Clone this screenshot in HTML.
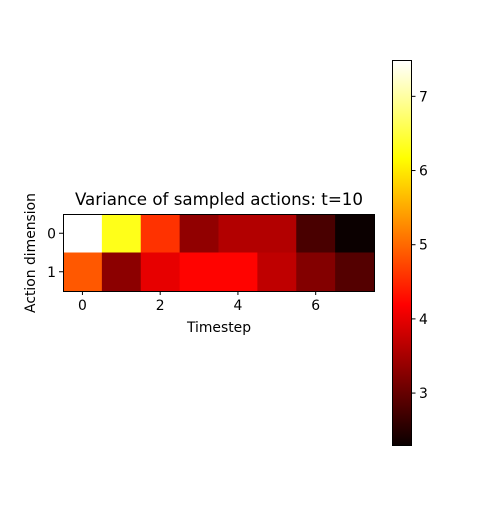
<!DOCTYPE html>
<html><head><meta charset="utf-8"><style>
body{margin:0;background:#fff}
svg text{font-family:"DejaVu Sans","Liberation Sans",sans-serif;fill:#000}
</style></head><body>
<svg id="chart" width="500" height="500" xmlns="http://www.w3.org/2000/svg">
<rect width="500" height="500" fill="#fff"/>
<g id="cells"></g>
<rect x="63.5" y="214.5" width="311" height="77" fill="none" stroke="#000" stroke-width="1"/>
<g id="axes"></g>
<text x="219" y="205" font-size="16.7" text-anchor="middle">Variance of sampled actions: t=10</text>
<text x="219" y="332" font-size="13.9" text-anchor="middle">Timestep</text>
<text transform="translate(35,253) rotate(-90)" font-size="13.9" text-anchor="middle">Action dimension</text>
<defs><linearGradient id="cg" x1="0" y1="1" x2="0" y2="0">
<stop offset="0" stop-color="rgb(10,0,0)"/>
<stop offset="0.365" stop-color="rgb(255,0,0)"/>
<stop offset="0.746" stop-color="rgb(255,255,0)"/>
<stop offset="1" stop-color="rgb(255,255,255)"/>
</linearGradient></defs>
<rect x="392.5" y="60.5" width="19" height="385" fill="url(#cg)" stroke="#000" stroke-width="1"/>
<g id="cbticks"></g>
</svg>
<script>
const timesteps=[0,1,2,3,4,5,6,7];
const dims=[0,1];
const row0=[7.49,6.30,4.58,3.34,3.60,3.60,2.78,2.30];
const row1=[4.88,3.30,4.01,4.22,4.22,3.70,3.23,2.87];
const xTicks=[0,2,4,6];
const cbTicks=[3,4,5,6,7];
const NS='http://www.w3.org/2000/svg';
const rows=[row0,row1];
const all=row0.concat(row1);
const vmin=Math.min(...all), vmax=Math.max(...all);
const X0=63,X1=374,Y0=214,Y1=291;
const cw=(X1-X0)/timesteps.length, ch=(Y1-Y0)/dims.length;
const xc=i=>X0+(i+0.5)*cw;
const yc=j=>Y0+(j+0.5)*ch;
const CB0=445,CB1=60;
const cy=v=>CB0-(v-vmin)/(vmax-vmin)*(CB0-CB1);
function hot(v){const f=(v-vmin)/(vmax-vmin);
 const r=Math.min(1,0.0416+f/0.365*(1-0.0416)),g=Math.max(0,Math.min(1,(f-0.365)/0.381)),b=Math.max(0,Math.min(1,(f-0.746)/0.254));
 return `rgb(${Math.round(r*255)},${Math.round(g*255)},${Math.round(b*255)})`;}
function mk(t,a,p){const e=document.createElementNS(NS,t);for(const k in a)e.setAttribute(k,a[k]);p.appendChild(e);return e;}
const cells=document.getElementById('cells');
rows.forEach((row,j)=>row.forEach((v,i)=>{
 const r=mk('rect',{x:xc(i)-cw/2,y:yc(j)-ch/2,width:cw+0.5,height:ch+0.5,fill:hot(v)},cells);
 
 
}));
const ax=document.getElementById('axes');
xTicks.forEach(t=>{
 const l=mk('line',{x1:xc(t),x2:xc(t),y1:Y1,y2:Y1+4,stroke:'#000'},ax);
 
 
 const tx=mk('text',{x:xc(t),y:Y1+19,'font-size':13.9,'text-anchor':'middle'},ax);tx.textContent=t;
 
 
});
dims.forEach(d=>{
 const l=mk('line',{x1:X0-4,x2:X0,y1:yc(d),y2:yc(d),stroke:'#000'},ax);
 
 
 const tx=mk('text',{x:X0-7,y:yc(d)+5,'font-size':13.9,'text-anchor':'end'},ax);tx.textContent=d;
 
 
});
const cb=document.getElementById('cbticks');
cbTicks.forEach(t=>{
 const l=mk('line',{x1:411.5,x2:415.5,y1:cy(t),y2:cy(t),stroke:'#000'},cb);
 
 
 const tx=mk('text',{x:419,y:cy(t)+5,'font-size':13.9},cb);tx.textContent=t;
 
 
});
</script>
</body></html>
